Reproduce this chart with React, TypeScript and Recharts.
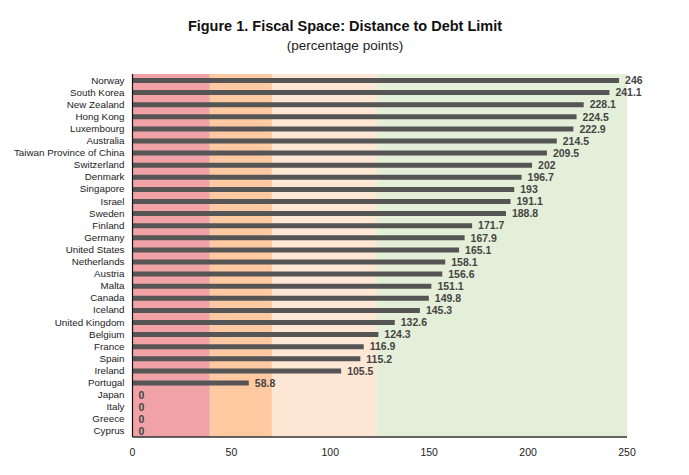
import React from "react";
import {
  ComposedChart,
  Bar,
  Line,
  XAxis,
  YAxis,
  ReferenceArea,
  LabelList,
} from "recharts";

const countries = [
  "Norway", "South Korea", "New Zealand", "Hong Kong", "Luxembourg", "Australia",
  "Taiwan Province of China", "Switzerland", "Denmark", "Singapore", "Israel", "Sweden",
  "Finland", "Germany", "United States", "Netherlands", "Austria", "Malta", "Canada",
  "Iceland", "United Kingdom", "Belgium", "France", "Spain", "Ireland", "Portugal",
  "Japan", "Italy", "Greece", "Cyprus",
];

const fiscalSpace = [
  246, 241.1, 228.1, 224.5, 222.9, 214.5, 209.5, 202, 196.7, 193, 191.1, 188.8,
  171.7, 167.9, 165.1, 158.1, 156.6, 151.1, 149.8, 145.3, 132.6, 124.3, 116.9,
  115.2, 105.5, 58.8, 0, 0, 0, 0,
];

const xTicks = [0, 50, 100, 150, 200, 250];

const bandEdges = [0, 39.1, 70.5, 123.6, 250];
const bandColors = ["#F1A2A6", "#FFCAA2", "#FFE7D6", "#E4EFD9"];

const data = countries.map((c, i) => ({ country: c, value: fiscalSpace[i] }));

const FONT = "'Liberation Sans', Arial, Helvetica, sans-serif";

const CountryTick = (props: any) => {
  const { x, y, payload } = props;
  return (
    <text
      x={x}
      y={y}
      dy="0.355em"
      textAnchor="end"
      fill="#222"
      fontSize={9.8}
      fontFamily={FONT}
    >
      {payload.value}
    </text>
  );
};

const ValueLabel = (props: any) => {
  const { x, y, value } = props;
  return (
    <text
      x={Number(x) + 6}
      y={Number(y)}
      dy="0.4em"
      textAnchor="start"
      fill="#444"
      fontSize={10.5}
      fontWeight="bold"
      fontFamily={FONT}
    >
      {String(value)}
    </text>
  );
};

export default function App() {
  return (
    <div style={{ position: "absolute", left: 0, top: 0, width: 689, height: 475, background: "#fff" }}>
      <ComposedChart
        width={689}
        height={475}
        data={data}
        layout="vertical"
        margin={{ top: 74, right: 62, bottom: 8, left: 0 }}
        barCategoryGap={0}
      >
        {bandColors.map((col, i) => (
          <ReferenceArea
            key={i}
            x1={bandEdges[i]}
            x2={bandEdges[i + 1]}
            fill={col}
            fillOpacity={1}
            stroke="none"
            ifOverflow="hidden"
          />
        ))}
        <XAxis
          type="number"
          domain={[0, 250]}
          ticks={xTicks}
          tickLine={false}
          height={30}
          tickMargin={6}
          axisLine={{ stroke: "#333", strokeWidth: 1.5 }}
          tick={{ fill: "#222", fontSize: 10.5, fontFamily: FONT }}
        />
        <YAxis
          type="category"
          dataKey="country"
          width={132.5}
          tickLine={false}
          interval={0}
          axisLine={{ stroke: "#111", strokeWidth: 1.2 }}
          tick={<CountryTick />}
        />
        <Bar dataKey="value" fill="#555555" barSize={5} isAnimationActive={false} />
        <Line
          dataKey="value"
          stroke="none"
          dot={false}
          activeDot={false}
          legendType="none"
          isAnimationActive={false}
        >
          <LabelList dataKey="value" content={<ValueLabel />} />
        </Line>
      </ComposedChart>
      <svg
        width={689}
        height={60}
        style={{ position: "absolute", left: 0, top: 0, pointerEvents: "none" }}
      >
        <text x={345} y={30.5} textAnchor="middle" fontFamily={FONT} fontWeight="bold" fontSize={14.5} fill="#111">
          Figure 1. Fiscal Space: Distance to Debt Limit
        </text>
        <text x={345} y={49.5} textAnchor="middle" fontFamily={FONT} fontSize={13.5} fill="#222">
          (percentage points)
        </text>
      </svg>
    </div>
  );
}
